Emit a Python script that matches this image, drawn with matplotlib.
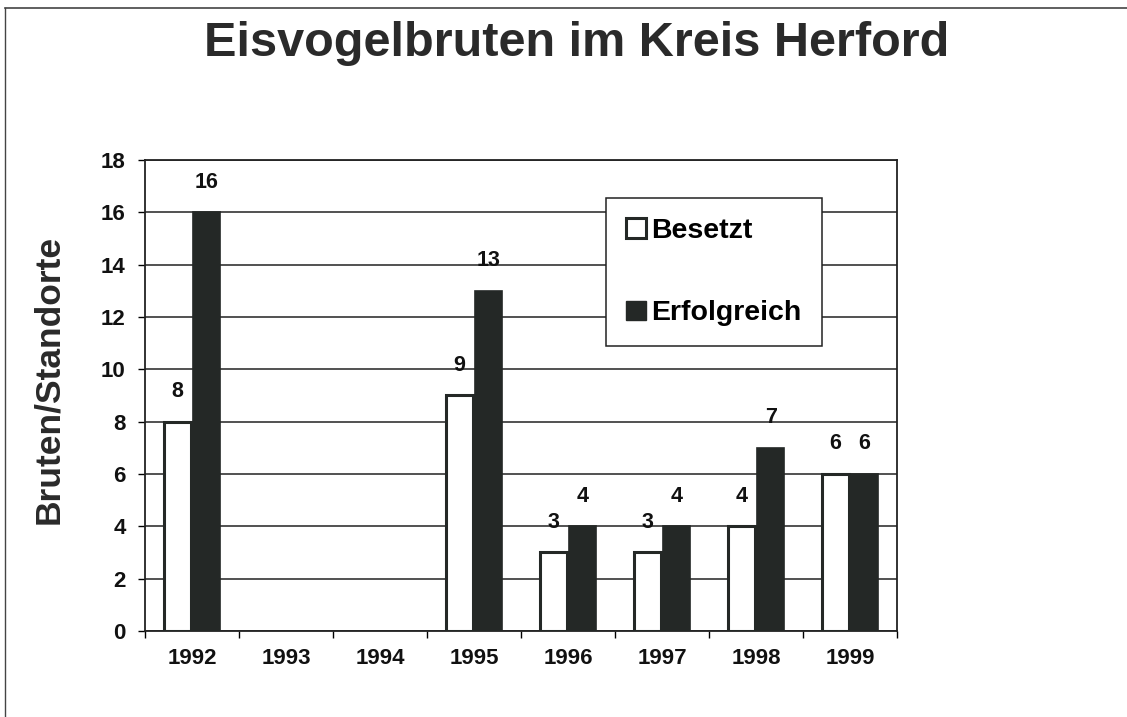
import numpy as np
import matplotlib.pyplot as plt
from matplotlib.patches import Patch
from matplotlib.lines import Line2D

plt.rcParams["font.family"] = ["Liberation Sans", "DejaVu Sans"]
plt.rcParams["font.weight"] = "bold"

# data
years = ["1992", "1993", "1994", "1995", "1996", "1997", "1998", "1999"]
besetzt = [8, None, None, 9, 3, 3, 4, 6]
erfolgreich = [16, None, None, 13, 4, 4, 7, 6]
y_ticks = [0, 2, 4, 6, 8, 10, 12, 14, 16, 18]

DARK = "#242826"

fig = plt.figure(figsize=(11.27, 7.17), dpi=100)
ax = fig.add_axes([0.1287, 0.12, 0.6673, 0.657])

x = np.arange(len(years))
w = 0.29
for i, (b, e) in enumerate(zip(besetzt, erfolgreich)):
    if b is not None:
        ax.bar(x[i] - w / 2 - 0.01, b, w, color="white", edgecolor=DARK, linewidth=2.2, zorder=3)
        ax.text(x[i] - w / 2 - 0.01, b + 1.15, str(b), ha="center", va="center", fontsize=15.5, color="#111")
    if e is not None:
        ax.bar(x[i] + w / 2 + 0.01, e, w, color=DARK, edgecolor=DARK, linewidth=1.2, zorder=3)
        ax.text(x[i] + w / 2 + 0.01, e + 1.15, str(e), ha="center", va="center", fontsize=15.5, color="#111")

ax.set_xlim(-0.5, len(years) - 0.5)
ax.set_ylim(0, 18)
ax.set_yticks(y_ticks)
ax.tick_params(axis="y", labelsize=16, length=5, width=1, pad=9, labelcolor="#111")
ax.yaxis.grid(True, color="#222", linewidth=1.1, zorder=0)
ax.set_axisbelow(True)

# ticks at category boundaries, labels centred
ax.set_xticks(np.arange(-0.5, len(years)), labels=[""] * (len(years) + 1))
ax.set_xticks(x, labels=years, minor=True)
ax.tick_params(axis="x", which="major", direction="out", length=5, width=1)
ax.tick_params(axis="x", which="minor", length=0, labelsize=16, pad=12, labelcolor="#111")

for s in ax.spines.values():
    s.set_color("#222")
    s.set_linewidth(1.3)

ax.set_ylabel("Bruten/Standorte", fontsize=25.5, fontweight="bold", color="#2a2a2a")
ax.yaxis.set_label_coords(-0.106, 0.535)

handles = [
    Patch(facecolor="white", edgecolor=DARK, linewidth=2.2, label="Besetzt"),
    Patch(facecolor=DARK, edgecolor=DARK, label="Erfolgreich"),
]
leg = ax.legend(handles=handles, loc="upper left", bbox_to_anchor=(0.613, 0.92),
                fontsize=20.5, handlelength=0.7, handleheight=0.7, handletextpad=0.2,
                labelspacing=2.0, borderpad=0.7, borderaxespad=0, fancybox=False,
                framealpha=1, edgecolor="#222")
leg.get_frame().set_linewidth(1.1)
leg.set_zorder(5)

fig.text(0.512, 0.94, "Eisvogelbruten im Kreis Herford", ha="center", va="center",
         fontsize=35, color="#2a2a2a")

# scan frame
fig.add_artist(Line2D([5 / 1127, 5 / 1127], [0, 1 - 8 / 717], color="#444", linewidth=1))
fig.add_artist(Line2D([5 / 1127, 1], [1 - 8 / 717, 1 - 8 / 717], color="#444", linewidth=1.2))

fig.savefig("out.png", dpi=100)
